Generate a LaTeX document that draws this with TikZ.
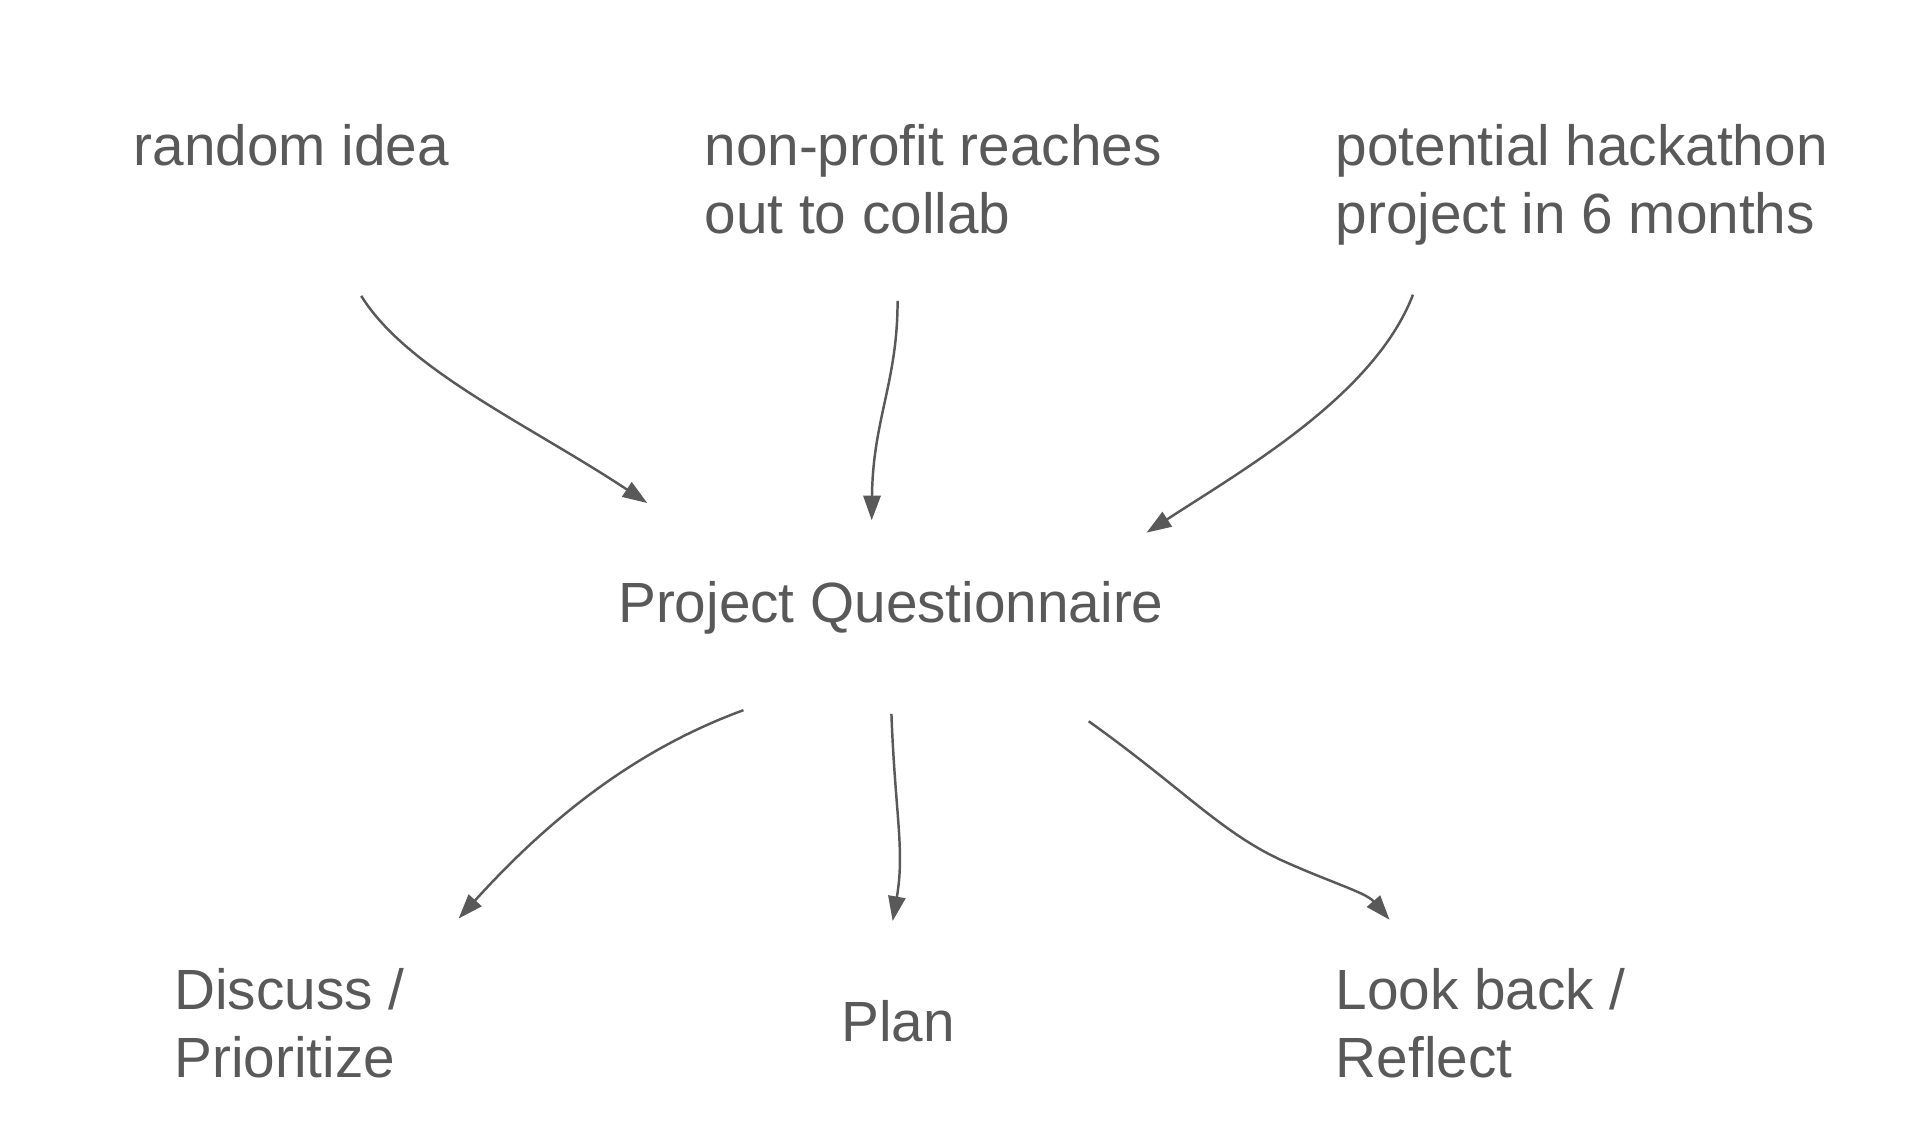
\documentclass[tikz,border=0pt]{standalone}
\usepackage{fontspec}
\setmainfont{Liberation Sans}
\usepackage{xcolor}
\usetikzlibrary{arrows, arrows.meta}
\usetikzlibrary{positioning}
\definecolor{slidegray}{HTML}{595959}

\begin{document}
\begin{tikzpicture}[x=0.5pt,y=-0.5pt,
		label/.style={text=slidegray, inner sep=0pt, align=left, anchor=base west,
			font=\fontsize{23pt}{27.5pt}\selectfont},
		flow/.style={draw=slidegray, line width=1pt, -{Triangle[length=10pt,width=7pt]}}]
				
				\useasboundingbox (0,0) rectangle (1567,913);
				
				% Where projects come from
				\node[label] (idea) at (108,134) {random idea};
				\node[label] (nonprofit) at (571,189) {non-profit reaches\\out to collab};
				\node[label] (hackathon) at (1083,189) {potential hackathon\\project in 6 months};
				
				% The questionnaire
				\node[label] (quest) at (501,505) {Project Questionnaire};
				
				% What it leads to
				\node[label] (discuss) at (141,874) {Discuss /\\Prioritize};
				\node[label] (plan) at (682,845) {Plan};
				\node[label] (reflect) at (1083,874) {Look back /\\Reflect};
				
				% Arrow ends
				\coordinate (idea-out) at (293,240);
				\coordinate (nonprofit-out) at (728,244);
				\coordinate (hackathon-out) at (1146,239);
				\coordinate (quest-in1) at (525,408);
				\coordinate (quest-in2) at (707,422);
				\coordinate (quest-in3) at (930,432);
				\coordinate (quest-out1) at (603,576);
				\coordinate (quest-out2) at (723,579);
				\coordinate (quest-out3) at (883,585);
				\coordinate (discuss-in) at (372,745);
				\coordinate (plan-in) at (724,747);
				\coordinate (reflect-in) at (1127,746);
				
				% Arrows into the questionnaire
				\draw[flow] (idea-out) .. controls (330,300) and (430,345) .. (quest-in1);
				\draw[flow] (nonprofit-out) .. controls (728,310) and (708,340) .. (quest-in2);
				\draw[flow] (hackathon-out) .. controls (1115,320) and (1010,380) .. (quest-in3);
				
				% Arrows out of the questionnaire
				\draw[flow] (quest-out1) .. controls (510,610) and (440,670) .. (discuss-in);
				\draw[flow] (quest-out2) .. controls (726,660) and (734,690) .. (plan-in);
				\draw[flow] (quest-out3) .. controls (960,640) and (990,675) .. (1040,698)
					.. controls (1080,716) and (1108,724) .. (reflect-in);
				
\end{tikzpicture}
\end{document}
